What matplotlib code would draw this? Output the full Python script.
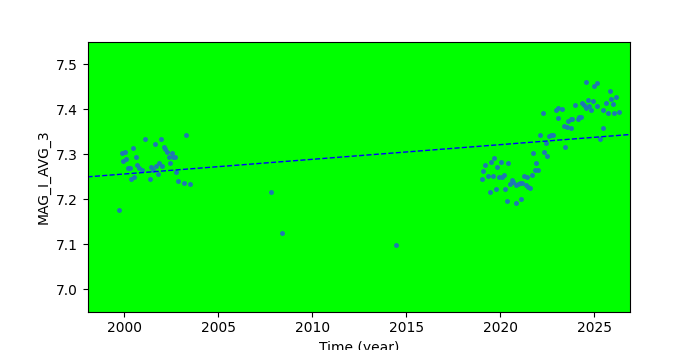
import matplotlib
matplotlib.use("Agg")
import matplotlib.pyplot as plt
import numpy as np

years = [
    2001.12, 2001.97, 2003.30, 2000.48, 2001.65, 1999.89, 2000.05, 2000.64, 1999.95, 2000.11,
    2002.13, 2002.18, 2002.29, 2002.55, 2002.71, 2002.39, 2002.61, 2000.69, 2000.23, 2000.32,
    2000.82, 2000.93, 2001.44, 2001.53, 2001.70, 2001.86, 2002.02, 2002.45, 2002.77, 2001.79,
    2000.37, 2000.53, 2001.38, 2002.87, 2003.19, 2003.51, 1999.73,
    2007.82, 2008.40, 2014.47,
    2024.57, 2025.00, 2025.11, 2025.85, 2025.90, 2026.17, 2024.36, 2024.47, 2024.68, 2024.95,
    2023.96, 2024.57, 2024.73, 2024.84, 2025.16, 2025.59, 2026.01, 2025.48, 2025.74, 2026.06,
    2026.28, 2022.95, 2023.05, 2023.27, 2022.29, 2023.09, 2023.62, 2023.74, 2023.83, 2024.10,
    2024.26, 2024.17, 2023.37, 2023.53, 2023.78, 2025.43, 2022.13, 2022.61, 2022.71, 2022.79,
    2022.45, 2025.32, 2023.46, 2022.34, 2022.50, 2021.76, 2021.91, 2021.85, 2022.01, 2020.43,
    2020.05, 2019.68, 2019.52, 2019.20, 2019.84, 2019.10, 2019.04, 2019.33, 2019.63, 2019.95,
    2020.11, 2020.21, 2020.64, 2020.69, 2020.53, 2020.82, 2020.93, 2021.03, 2021.14, 2021.28,
    2021.44, 2021.70, 2021.37, 2021.58, 2021.49, 2020.27, 2019.47, 2019.79, 2020.37, 2020.85,
    2021.12,
]
mags = [
    7.335, 7.333, 7.344, 7.315, 7.322, 7.302, 7.304, 7.293, 7.286, 7.290,
    7.317, 7.311, 7.304, 7.302, 7.295, 7.293, 7.293, 7.277, 7.269, 7.269,
    7.269, 7.265, 7.271, 7.266, 7.275, 7.281, 7.273, 7.280, 7.260, 7.257,
    7.246, 7.249, 7.246, 7.240, 7.235, 7.233, 7.177,
    7.215, 7.124, 7.097,
    7.460, 7.453, 7.458, 7.440, 7.424, 7.427, 7.415, 7.409, 7.420, 7.418,
    7.409, 7.404, 7.407, 7.398, 7.407, 7.415, 7.411, 7.398, 7.391, 7.393,
    7.395, 7.398, 7.402, 7.400, 7.393, 7.380, 7.375, 7.378, 7.378, 7.378,
    7.384, 7.382, 7.362, 7.360, 7.358, 7.358, 7.342, 7.340, 7.342, 7.342,
    7.326, 7.335, 7.317, 7.306, 7.297, 7.302, 7.280, 7.266, 7.264, 7.280,
    7.282, 7.291, 7.282, 7.277, 7.271, 7.262, 7.244, 7.251, 7.251, 7.249,
    7.249, 7.253, 7.242, 7.239, 7.233, 7.231, 7.233, 7.235, 7.237, 7.251,
    7.249, 7.253, 7.231, 7.226, 7.228, 7.222, 7.217, 7.222, 7.195, 7.191,
    7.200,
]

trend_ref_year = 2000.0
trend_ref_value = 7.2561
trend_slope = 0.00327

fig, ax = plt.subplots(figsize=(7, 3.5), dpi=100)
ax.set_facecolor("#00ff00")
ax.plot(years, mags, linestyle="none", marker="o", markersize=2.5, color="C0")
ax.axline((trend_ref_year, trend_ref_value), slope=trend_slope, color="blue",
          linestyle="--", linewidth=1)
ax.set_xlim(1998.06, 2026.89)
ax.set_ylim(6.95, 7.55)
ax.set_xlabel("Time (year)")
ax.set_ylabel("MAG_I_AVG_3")
fig.savefig("out.png", dpi=100)
